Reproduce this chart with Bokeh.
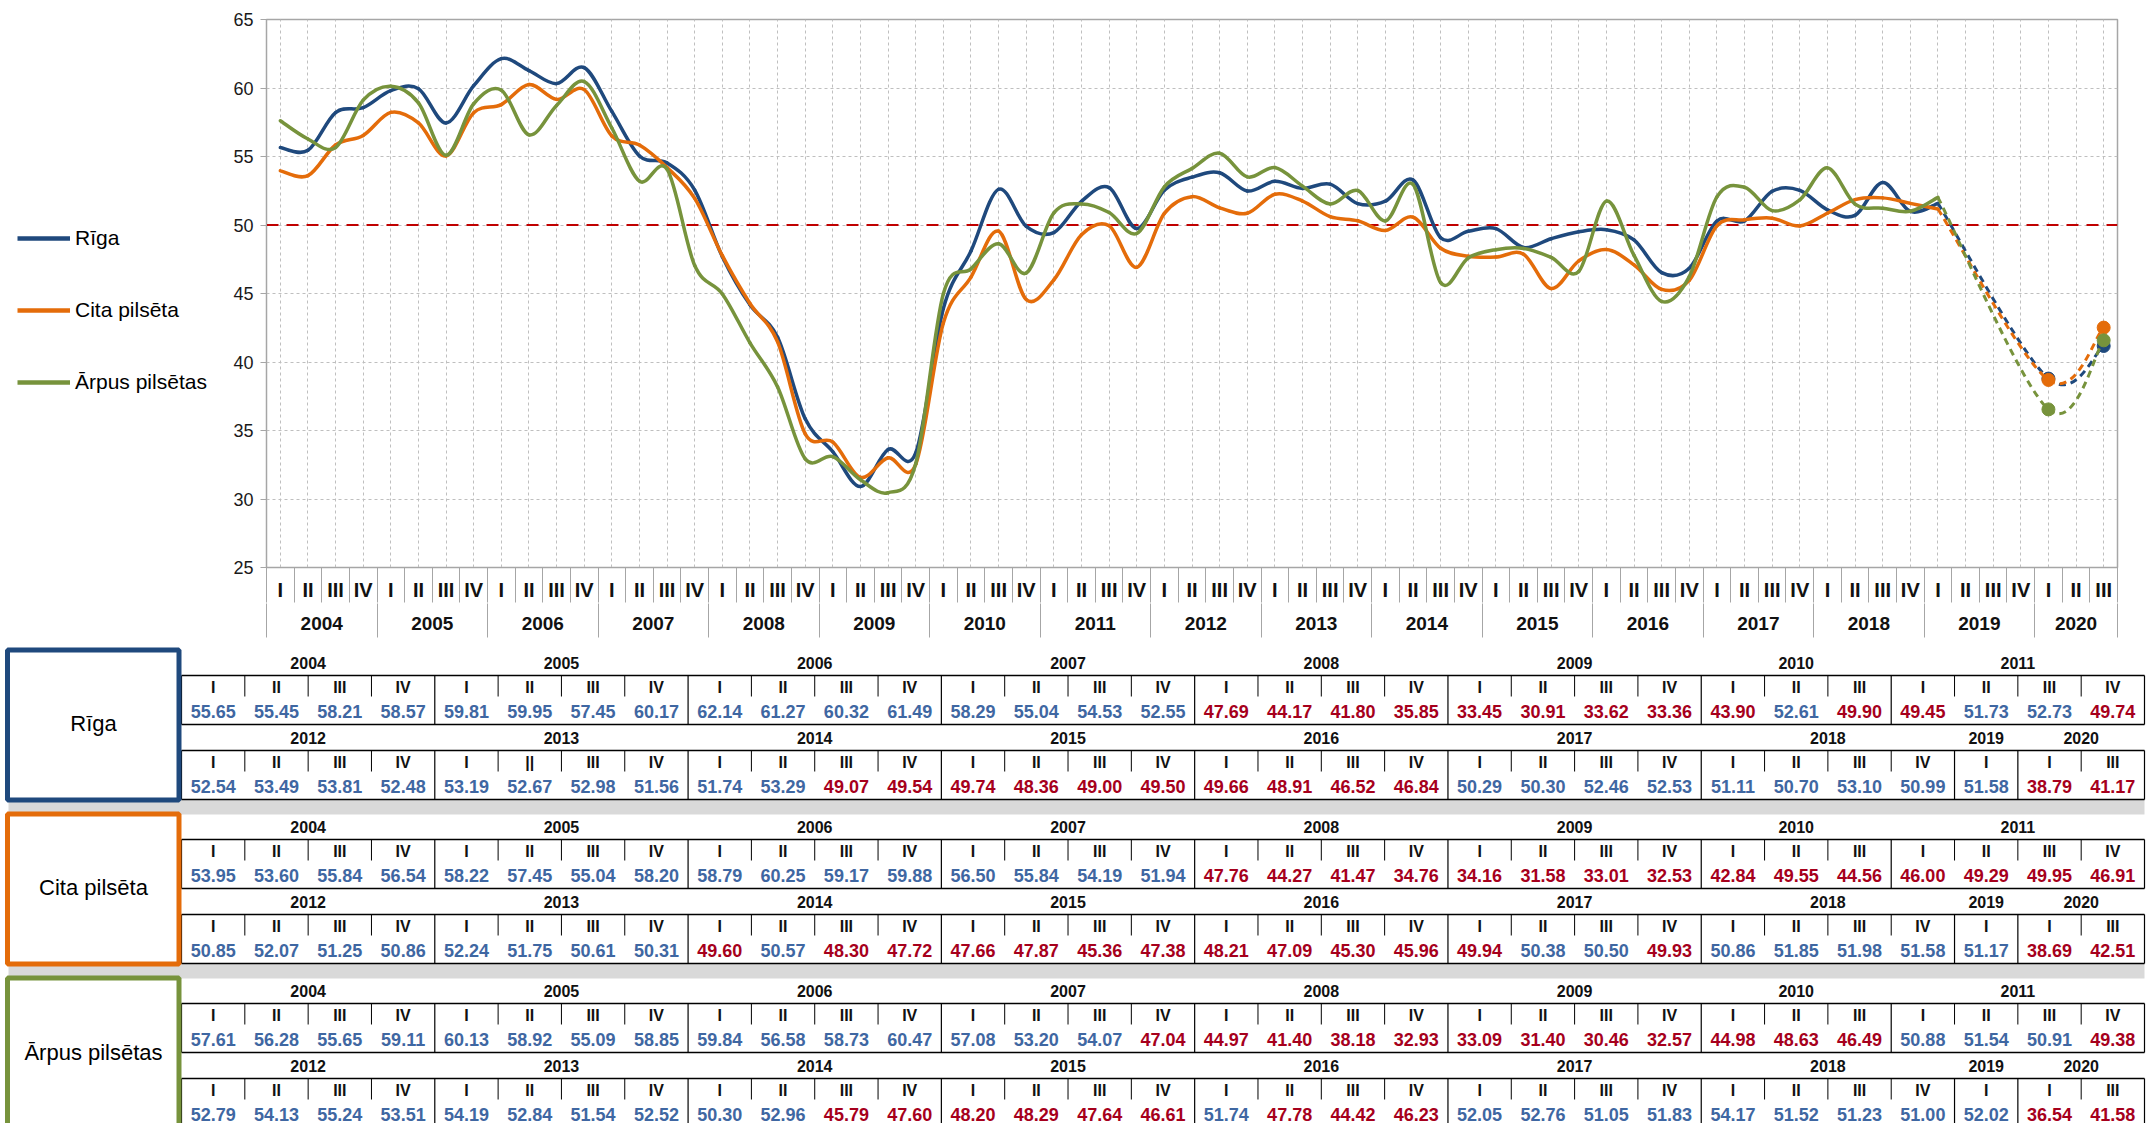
from bokeh.plotting import figure
from bokeh.models import (Range1d, LinearAxis, FixedTicker, Grid, Span, Legend, LegendItem,
                          ColumnDataSource, AllLabels)
from bokeh.layouts import column, row
from bokeh.embed import file_html
from bokeh.resources import INLINE
from bokeh.core.properties import value

SANS = "Liberation Sans, Arial, sans-serif"
BOLDF = "Liberation Sans, Arial, sans-serif"

quarter_names = ["I", "II", "III", "IV"]
chart_years = [str(y) for y in range(2004, 2021)]
chart_quarters = quarter_names * 16 + ["I", "II", "III"]

row1_year_groups = [("2004", 4), ("2005", 4), ("2006", 4), ("2007", 4), ("2008", 4),
                    ("2009", 4), ("2010", 3), ("2011", 4)]
row1_quarter_labels = quarter_names * 6 + ["I", "II", "III"] + quarter_names
row2_year_groups = [("2012", 4), ("2013", 4), ("2014", 4), ("2015", 4), ("2016", 4),
                    ("2017", 4), ("2018", 4), ("2019", 1), ("2020", 2)]
row2_quarter_labels = quarter_names * 7 + ["I", "I", "III"]
riga_row2_quarter_labels = quarter_names + ["I", "||", "III", "IV"] + quarter_names * 5 + ["I", "I", "III"]

riga_row1 = [55.65, 55.45, 58.21, 58.57, 59.81, 59.95, 57.45, 60.17, 62.14, 61.27, 60.32, 61.49,
             58.29, 55.04, 54.53, 52.55, 47.69, 44.17, 41.80, 35.85, 33.45, 30.91, 33.62, 33.36,
             43.90, 52.61, 49.90, 49.45, 51.73, 52.73, 49.74]
riga_row2 = [52.54, 53.49, 53.81, 52.48, 53.19, 52.67, 52.98, 51.56, 51.74, 53.29, 49.07, 49.54,
             49.74, 48.36, 49.00, 49.50, 49.66, 48.91, 46.52, 46.84, 50.29, 50.30, 52.46, 52.53,
             51.11, 50.70, 53.10, 50.99, 51.58, 38.79, 41.17]
cita_row1 = [53.95, 53.60, 55.84, 56.54, 58.22, 57.45, 55.04, 58.20, 58.79, 60.25, 59.17, 59.88,
             56.50, 55.84, 54.19, 51.94, 47.76, 44.27, 41.47, 34.76, 34.16, 31.58, 33.01, 32.53,
             42.84, 49.55, 44.56, 46.00, 49.29, 49.95, 46.91]
cita_row2 = [50.85, 52.07, 51.25, 50.86, 52.24, 51.75, 50.61, 50.31, 49.60, 50.57, 48.30, 47.72,
             47.66, 47.87, 45.36, 47.38, 48.21, 47.09, 45.30, 45.96, 49.94, 50.38, 50.50, 49.93,
             50.86, 51.85, 51.98, 51.58, 51.17, 38.69, 42.51]
arpus_row1 = [57.61, 56.28, 55.65, 59.11, 60.13, 58.92, 55.09, 58.85, 59.84, 56.58, 58.73, 60.47,
              57.08, 53.20, 54.07, 47.04, 44.97, 41.40, 38.18, 32.93, 33.09, 31.40, 30.46, 32.57,
              44.98, 48.63, 46.49, 50.88, 51.54, 50.91, 49.38]
arpus_row2 = [52.79, 54.13, 55.24, 53.51, 54.19, 52.84, 51.54, 52.52, 50.30, 52.96, 45.79, 47.60,
              48.20, 48.29, 47.64, 46.61, 51.74, 47.78, 44.42, 46.23, 52.05, 52.76, 51.05, 51.83,
              54.17, 51.52, 51.23, 51.00, 52.02, 36.54, 41.58]
# 2010 Q2 is plotted in the chart but absent from the tables
q2_2010 = {"riga": 48.1, "cita": 46.2, "arpus": 46.8}

COLORS = {"riga": "#1F497D", "cita": "#E46C0A", "arpus": "#77933C"}
NAMES = {"riga": "Rīga", "cita": "Cita pilsēta", "arpus": "Ārpus pilsētas"}
ROWS = {"riga": (riga_row1, riga_row2), "cita": (cita_row1, cita_row2), "arpus": (arpus_row1, arpus_row2)}
KEYS = ("riga", "cita", "arpus")


def chart_series(r1, r2, est):
    solid = r1[:25] + [est] + r1[25:] + r2[:29]          # 2004 I .. 2019 I
    dash_x = [60, 64, 66]                                  # 2019 I, 2020 I, 2020 III
    dash_y = [solid[60], r2[29], r2[30]]
    return list(range(len(solid))), solid, dash_x, dash_y


def bezier_source(xs, ys):
    n = len(xs)
    d = {k: [] for k in ("x0", "y0", "x1", "y1", "cx0", "cy0", "cx1", "cy1")}
    for i in range(n - 1):
        a = i - 1 if i > 0 else i
        b = i + 2 if i + 2 < n else i + 1
        d["x0"].append(xs[i]); d["y0"].append(ys[i])
        d["x1"].append(xs[i + 1]); d["y1"].append(ys[i + 1])
        d["cx0"].append(xs[i] + (xs[i + 1] - xs[a]) / 6.0)
        d["cy0"].append(ys[i] + (ys[i + 1] - ys[a]) / 6.0)
        d["cx1"].append(xs[i + 1] - (xs[b] - xs[i]) / 6.0)
        d["cy1"].append(ys[i + 1] - (ys[b] - ys[i]) / 6.0)
    return ColumnDataSource(d)


SERIES = {key: chart_series(ROWS[key][0], ROWS[key][1], q2_2010[key]) for key in KEYS}

# ---------------- legend panel (series drawn off-view, only their legend shows) ----------------
PAGE_W, PAGE_H = 2151, 1123
CH = 640
LW = 225
lf = figure(width=LW, height=CH, x_range=Range1d(-100, -99), y_range=Range1d(25, 65),
            x_axis_type=None, y_axis_type=None, toolbar_location=None, output_backend="svg",
            min_border=0)
lf.outline_line_color = None
legend_items = []
for key in KEYS:
    xs, ys, _, _ = SERIES[key]
    lr = lf.line(x=xs, y=ys, line_color=COLORS[key], line_width=4.5)
    legend_items.append(LegendItem(label=NAMES[key], renderers=[lr]))
legend = Legend(items=legend_items, location=(17, 246), orientation="vertical",
                glyph_width=53, glyph_height=24, label_height=24,
                spacing=48, padding=0, margin=0, border_line_color=None,
                background_fill_alpha=0, label_text_font=SANS, label_text_font_size="21px",
                label_text_color="#000000", label_standoff=5)
lf.add_layout(legend)

# ---------------- chart ----------------
p = figure(width=PAGE_W - LW, height=CH, x_range=Range1d(-0.5, 66.5), y_range=Range1d(25, 65),
           x_axis_type=None, y_axis_type=None, toolbar_location=None, output_backend="svg",
           min_border_left=266 - LW, min_border_right=PAGE_W - 2117, min_border_top=19,
           min_border_bottom=73)
p.outline_line_color = "#A6A6A6"
p.outline_line_width = 1.5
p.background_fill_color = "white"

yax = LinearAxis(ticker=FixedTicker(ticks=[25, 30, 35, 40, 45, 50, 55, 60, 65], minor_ticks=[]),
                 major_tick_out=6, major_tick_in=0, major_tick_line_color="#A6A6A6",
                 axis_line_color="#A6A6A6", major_label_standoff=7,
                 major_label_text_font=SANS, major_label_text_font_size="18px",
                 major_label_text_color="#1a1a1a")
p.add_layout(yax, "left")

q_ticker = FixedTicker(ticks=list(range(67)), minor_ticks=[i - 0.5 for i in range(68)])
qax = LinearAxis(ticker=q_ticker,
                 major_label_overrides={i: chart_quarters[i] for i in range(67)},
                 major_tick_out=0, major_tick_in=0, major_tick_line_color=None,
                 minor_tick_out=35, minor_tick_in=0, minor_tick_line_color="#A6A6A6",
                 axis_line_color="#A6A6A6", major_label_standoff=-24,
                 major_label_text_font=BOLDF, major_label_text_font_style="bold",
                 major_label_text_font_size="20px", major_label_text_color="#111111",
                 major_label_policy=AllLabels())
p.add_layout(qax, "below")

year_centers = [4 * k + 1.5 for k in range(16)] + [65.0]
year_bounds = [4 * k - 0.5 for k in range(17)] + [66.5]
yrax = LinearAxis(ticker=FixedTicker(ticks=year_centers, minor_ticks=year_bounds),
                  major_label_overrides={c: chart_years[k] for k, c in enumerate(year_centers)},
                  major_tick_out=0, major_tick_in=0, major_tick_line_color=None,
                  minor_tick_out=34, minor_tick_in=0, minor_tick_line_color="#A6A6A6",
                  axis_line_color=None, major_label_standoff=-21,
                  major_label_text_font=BOLDF, major_label_text_font_style="bold",
                  major_label_text_font_size="19px", major_label_text_color="#111111",
                  major_label_policy=AllLabels())
p.add_layout(yrax, "below")

p.add_layout(Grid(dimension=0, ticker=q_ticker, grid_line_color="#BFBFBF", grid_line_dash="3 3"))
p.add_layout(Grid(dimension=1, ticker=yax.ticker, grid_line_color="#BFBFBF", grid_line_dash="3 3"))
p.add_layout(Span(location=50, dimension="width", line_color="#C00000", line_width=2,
                  line_dash="12 8", level="underlay"))

for key in KEYS:
    xs, ys, dx, dy = SERIES[key]
    p.bezier(x0="x0", y0="y0", x1="x1", y1="y1", cx0="cx0", cy0="cy0", cx1="cx1", cy1="cy1",
             source=bezier_source(xs, ys), line_color=COLORS[key], line_width=3.5,
             line_cap="round")
    p.bezier(x0="x0", y0="y0", x1="x1", y1="y1", cx0="cx0", cy0="cy0", cx1="cx1", cy1="cy1",
             source=bezier_source(dx, dy), line_color=COLORS[key], line_width=3,
             line_dash="7 5")
    p.scatter(dx[1:], dy[1:], size=13, color=COLORS[key])

# ---------------- tables ----------------
TY0, TY1 = CH, PAGE_H
tp = figure(width=PAGE_W, height=TY1 - TY0, x_range=Range1d(0, PAGE_W), y_range=Range1d(TY1, TY0),
            x_axis_type=None, y_axis_type=None, toolbar_location=None, output_backend="svg",
            min_border=0)
tp.outline_line_color = None

for fig in (lf, p, tp):
    if "frame_align" in fig.properties():
        fig.frame_align = False

TX0, TX1 = 181.0, 2144.0
NCOL = 31
CW = (TX1 - TX0) / NCOL
block_offsets = [0, 164, 328]
title_y = [723, 887, 1052]
BLUE_T = "#3F67A2"
RED_T = "#A6001C"

# gray separator bands
for i in range(2):
    tp.quad(left=8, right=TX1, top=block_offsets[i] + 799, bottom=block_offsets[i + 1] + 650,
            fill_color="#D9D9D9", line_color=None)

seg = {"x0": [], "y0": [], "x1": [], "y1": [], "w": []}
txt = {"x": [], "y": [], "t": [], "c": [], "s": []}


def add_seg(x0, y0, x1, y1, w):
    seg["x0"].append(x0); seg["y0"].append(y0); seg["x1"].append(x1); seg["y1"].append(y1)
    seg["w"].append(w)


def add_txt(x, y, t, c, s):
    txt["x"].append(x); txt["y"].append(y); txt["t"].append(t); txt["c"].append(c); txt["s"].append(s)


for bi, key in enumerate(KEYS):
    off = block_offsets[bi]
    r1, r2 = ROWS[key]
    q2labels = riga_row2_quarter_labels if key == "riga" else row2_quarter_labels
    rows = [(row1_year_groups, row1_quarter_labels, r1), (row2_year_groups, q2labels, r2)]
    for ri, (groups, qlabels, vals) in enumerate(rows):
        top = 675 + off + 75 * ri
        bot = top + 49
        add_seg(TX0, top, TX1, top, 1.5)
        add_seg(TX0, bot, TX1, bot, 1.5)
        k = 0
        for name, n in groups:
            add_txt(TX0 + (k + n / 2.0) * CW, top - 13, name, "#111111", "16px")
            add_seg(TX0 + k * CW, top, TX0 + k * CW, bot, 1.2)
            for j in range(1, n):
                add_seg(TX0 + (k + j) * CW, top, TX0 + (k + j) * CW, top + 21, 1)
            k += n
        add_seg(TX1, top, TX1, bot, 1.2)
        for c in range(NCOL):
            cx = TX0 + (c + 0.5) * CW
            add_txt(cx, top + 12, qlabels[c], "#111111", "16px")
            v = vals[c]
            add_txt(cx, top + 36, "%.2f" % v, BLUE_T if v >= 50 else RED_T, "18px")

tp.segment(x0="x0", y0="y0", x1="x1", y1="y1", line_width="w", line_color="#000000",
           source=ColumnDataSource(seg))
tp.text(x="x", y="y", text="t", text_color="c", text_font_size="s", text_font=value(BOLDF),
        text_font_style="bold", text_align="center", text_baseline="middle",
        source=ColumnDataSource(txt))

for bi, key in enumerate(KEYS):
    off = block_offsets[bi]
    tp.quad(left=7, right=178.5, top=off + 649.5, bottom=min(off + 799.5, 1135),
            fill_color="white", line_color=COLORS[key], line_width=5)
    tp.text(x=[93], y=[title_y[bi]], text=[NAMES[key]], text_font=value(SANS),
            text_font_size="22px", text_color="#000000", text_align="center",
            text_baseline="middle")

layout = column(row(lf, p, spacing=0), tp, spacing=0)
open("out.html", "w").write(file_html(layout, INLINE))
